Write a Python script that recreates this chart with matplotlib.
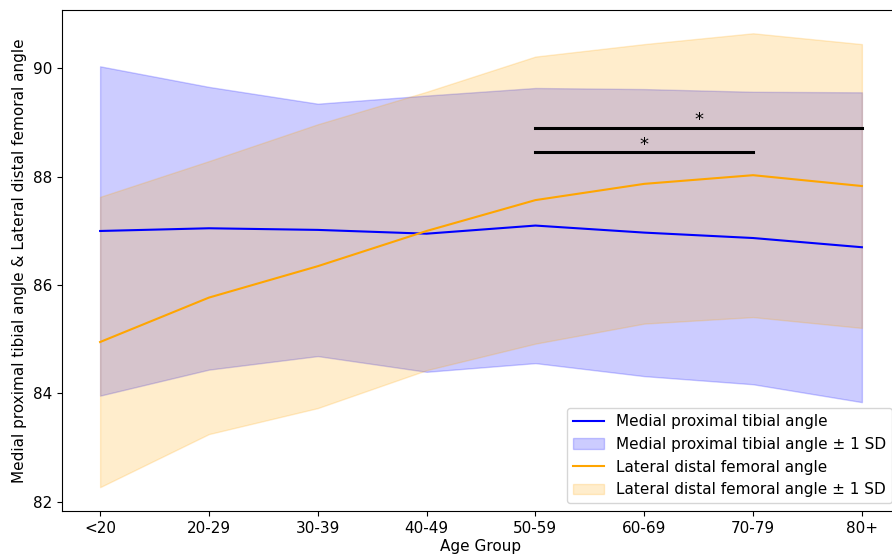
import matplotlib
matplotlib.use("Agg")
import matplotlib.pyplot as plt
import numpy as np

age_groups = ["<20", "20-29", "30-39", "40-49", "50-59", "60-69", "70-79", "80+"]
mpta_mean = [87.00, 87.05, 87.02, 86.95, 87.10, 86.97, 86.87, 86.70]
mpta_sd = [3.04, 2.61, 2.33, 2.55, 2.54, 2.65, 2.70, 2.86]
ldfa_mean = [84.95, 85.77, 86.35, 87.00, 87.57, 87.87, 88.03, 87.83]
ldfa_sd = [2.68, 2.52, 2.62, 2.57, 2.65, 2.58, 2.62, 2.62]
sig_pairs = [(4, 7, 88.9), (4, 6, 88.45)]

x = np.arange(len(age_groups))
mm, ms = np.array(mpta_mean), np.array(mpta_sd)
lm, ls = np.array(ldfa_mean), np.array(ldfa_sd)

fig = plt.figure(figsize=(8.92, 5.58), dpi=100)
ax = fig.add_axes([62/892, 47/558, (900-62)/892, (511-10)/558])

ax.plot(x, mm, color="blue", lw=1.5, label="Medial proximal tibial angle")
ax.fill_between(x, mm - ms, mm + ms, color="blue", alpha=0.2,
                label="Medial proximal tibial angle ± 1 SD")
ax.plot(x, lm, color="orange", lw=1.5, label="Lateral distal femoral angle")
ax.fill_between(x, lm - ls, lm + ls, color="orange", alpha=0.2,
                label="Lateral distal femoral angle ± 1 SD")

for a, b, y in sig_pairs:
    ax.plot([a, b], [y, y], color="black", lw=2.2)
    ax.text((a + b) / 2, y - 0.02, "*", ha="center", va="bottom", fontsize=13)

ax.set_xticks(x)
ax.set_xticklabels(age_groups)
ax.tick_params(labelsize=11)
ax.set_xlim(-0.35, 7.35)
ax.set_ylim(81.83, 91.08)
ax.set_yticks([82, 84, 86, 88, 90])
ax.set_xlabel("Age Group", fontsize=11, labelpad=2)
ax.set_ylabel("Medial proximal tibial angle & Lateral distal femoral angle", fontsize=11)
ax.legend(loc="lower right", fontsize=11)

fig.savefig("out.png", dpi=100)
